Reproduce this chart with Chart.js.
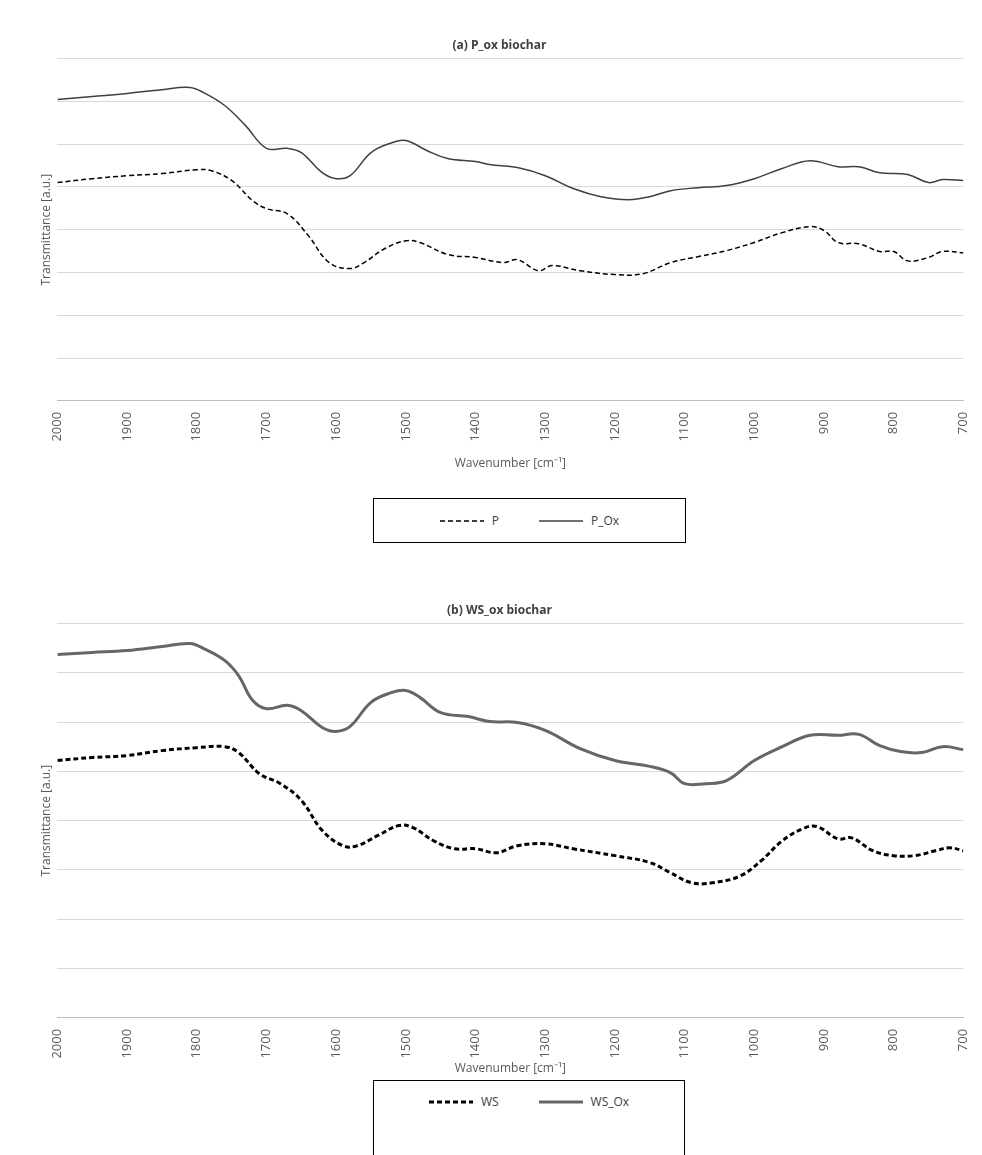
<!DOCTYPE html>
<html><head><meta charset="utf-8">
<script src="https://cdn.jsdelivr.net/npm/chart.js@4/dist/chart.umd.min.js"></script>
<style>
body{margin:0;background:#fff;font-family:"Open Sans",sans-serif;}
.wrap{position:absolute;left:0;width:982px;}
.legend{position:absolute;border:1.5px solid #000;background:#fff;display:flex;justify-content:center;align-items:center;gap:40px;font-size:12px;color:#404040;box-sizing:border-box;}
.legend span{display:flex;align-items:center;gap:8px;}
</style></head><body>
<div class="wrap" style="top:0;height:475px"><canvas id="chartA"></canvas></div>
<div class="legend" style="left:373px;top:498px;width:313px;height:45px">
 <span><svg width="44" height="4"><line x1="0" y1="2" x2="44" y2="2" stroke="#000" stroke-width="1.5" stroke-dasharray="5,3"/></svg>P</span>
 <span><svg width="44" height="4"><line x1="0" y1="2" x2="44" y2="2" stroke="#404040" stroke-width="1.5"/></svg>P_Ox</span>
</div>
<div class="wrap" style="top:565px;height:515px"><canvas id="chartB"></canvas></div>
<div class="legend" style="left:373px;top:1080px;width:312px;height:80px;align-items:flex-start;padding-top:12px">
 <span><svg width="44" height="4"><line x1="0" y1="2" x2="44" y2="2" stroke="#000" stroke-width="3" stroke-dasharray="5,3"/></svg>WS</span>
 <span><svg width="44" height="4"><line x1="0" y1="2" x2="44" y2="2" stroke="#666" stroke-width="3"/></svg>WS_Ox</span>
</div>
<script>
const pOxX = [2000,1950,1900,1850,1810,1790,1760,1730,1700,1670,1650,1620,1600,1580,1550,1520,1500,1470,1440,1400,1380,1340,1300,1260,1220,1180,1150,1120,1080,1040,1000,960,920,880,850,820,780,750,730,700];
const pOxY = [7.04,7.11,7.18,7.27,7.32,7.2,6.9,6.43,5.9,5.9,5.8,5.33,5.19,5.26,5.8,6.03,6.08,5.85,5.66,5.59,5.52,5.45,5.26,4.96,4.77,4.7,4.77,4.91,4.98,5.03,5.19,5.43,5.61,5.47,5.47,5.33,5.29,5.1,5.17,5.15];
const pX = [2000,1950,1900,1850,1800,1780,1750,1720,1700,1670,1640,1610,1580,1560,1530,1500,1480,1440,1400,1360,1340,1310,1290,1250,1200,1160,1120,1080,1040,1000,960,920,900,880,850,820,800,780,750,730,700];
const pY = [5.1,5.19,5.26,5.31,5.4,5.38,5.15,4.68,4.49,4.37,3.86,3.23,3.09,3.23,3.56,3.74,3.7,3.42,3.35,3.23,3.3,3.04,3.16,3.04,2.95,2.97,3.23,3.37,3.51,3.7,3.93,4.07,3.98,3.7,3.67,3.49,3.49,3.27,3.35,3.49,3.46];
const wsOxX = [2000,1950,1900,1850,1810,1790,1760,1740,1720,1700,1670,1650,1620,1600,1580,1550,1520,1500,1480,1450,1410,1380,1340,1300,1250,1200,1150,1120,1100,1070,1040,1000,960,920,880,850,820,790,760,730,700];
const wsOxY = [7.37,7.41,7.45,7.53,7.59,7.49,7.25,6.94,6.44,6.27,6.34,6.23,5.89,5.81,5.91,6.4,6.6,6.64,6.5,6.19,6.11,6.01,5.99,5.83,5.46,5.22,5.1,4.97,4.75,4.75,4.81,5.22,5.5,5.73,5.73,5.75,5.52,5.4,5.38,5.5,5.44];
const wsX = [2000,1950,1900,1850,1800,1760,1740,1710,1680,1650,1620,1590,1570,1540,1510,1490,1460,1430,1400,1370,1340,1300,1260,1200,1150,1120,1090,1060,1020,990,960,930,910,880,860,830,800,770,740,720,700];
const wsY = [5.22,5.28,5.32,5.42,5.48,5.5,5.38,4.95,4.75,4.41,3.8,3.49,3.49,3.7,3.9,3.86,3.59,3.43,3.43,3.35,3.49,3.53,3.43,3.29,3.15,2.94,2.74,2.74,2.88,3.19,3.59,3.84,3.88,3.63,3.65,3.39,3.29,3.29,3.39,3.45,3.39];

const pts = (xs, ys) => xs.map((x, i) => ({x: x, y: ys[i]}));

function makeChart(id, title, sets, titleGap) {
  new Chart(document.getElementById(id), {
    type: 'line',
    data: {datasets: sets},
    options: {
      responsive: true, maintainAspectRatio: false, animation: false,
      layout: {padding: {left: 35, right: 18, top: 38}},
      elements: {point: {radius: 0}, line: {tension: 0.4}},
      plugins: {
        legend: {display: false},
        title: {display: true, text: title, color: '#404040', font: {family: 'Open Sans', size: 12, weight: 'bold'}, padding: {bottom: 6}}
      },
      scales: {
        x: {type: 'linear', min: 700, max: 2000, reverse: true,
          ticks: {stepSize: 100, minRotation: 90, maxRotation: 90, color: '#595959', font: {family: 'Open Sans', size: 13},
            callback: v => String(v)},
          grid: {display: false}, border: {color: '#bfbfbf'},
          title: {display: true, text: 'Wavenumber [cm\u207B\u00B9]', color: '#595959', font: {family: 'Open Sans', size: 12}, padding: {top: titleGap}}},
        y: {min: 0, max: 8, ticks: {stepSize: 1, display: false},
          grid: {color: '#d9d9d9', drawTicks: false}, border: {display: false},
          title: {display: true, text: 'Transmittance [a.u.]', color: '#595959', font: {family: 'Open Sans', size: 12}}}
      }
    }
  });
}

makeChart('chartA', '(a) P_ox biochar', [
  {label: 'P', data: pts(pX, pY), borderColor: '#000', borderWidth: 1.5, borderDash: [5, 3]},
  {label: 'P_Ox', data: pts(pOxX, pOxY), borderColor: '#404040', borderWidth: 1.5}
], 12);
makeChart('chartB', '(b) WS_ox biochar', [
  {label: 'WS', data: pts(wsX, wsY), borderColor: '#000', borderWidth: 3, borderDash: [5, 3]},
  {label: 'WS_Ox', data: pts(wsOxX, wsOxY), borderColor: '#666', borderWidth: 3}
], 0);
</script>
</body></html>
